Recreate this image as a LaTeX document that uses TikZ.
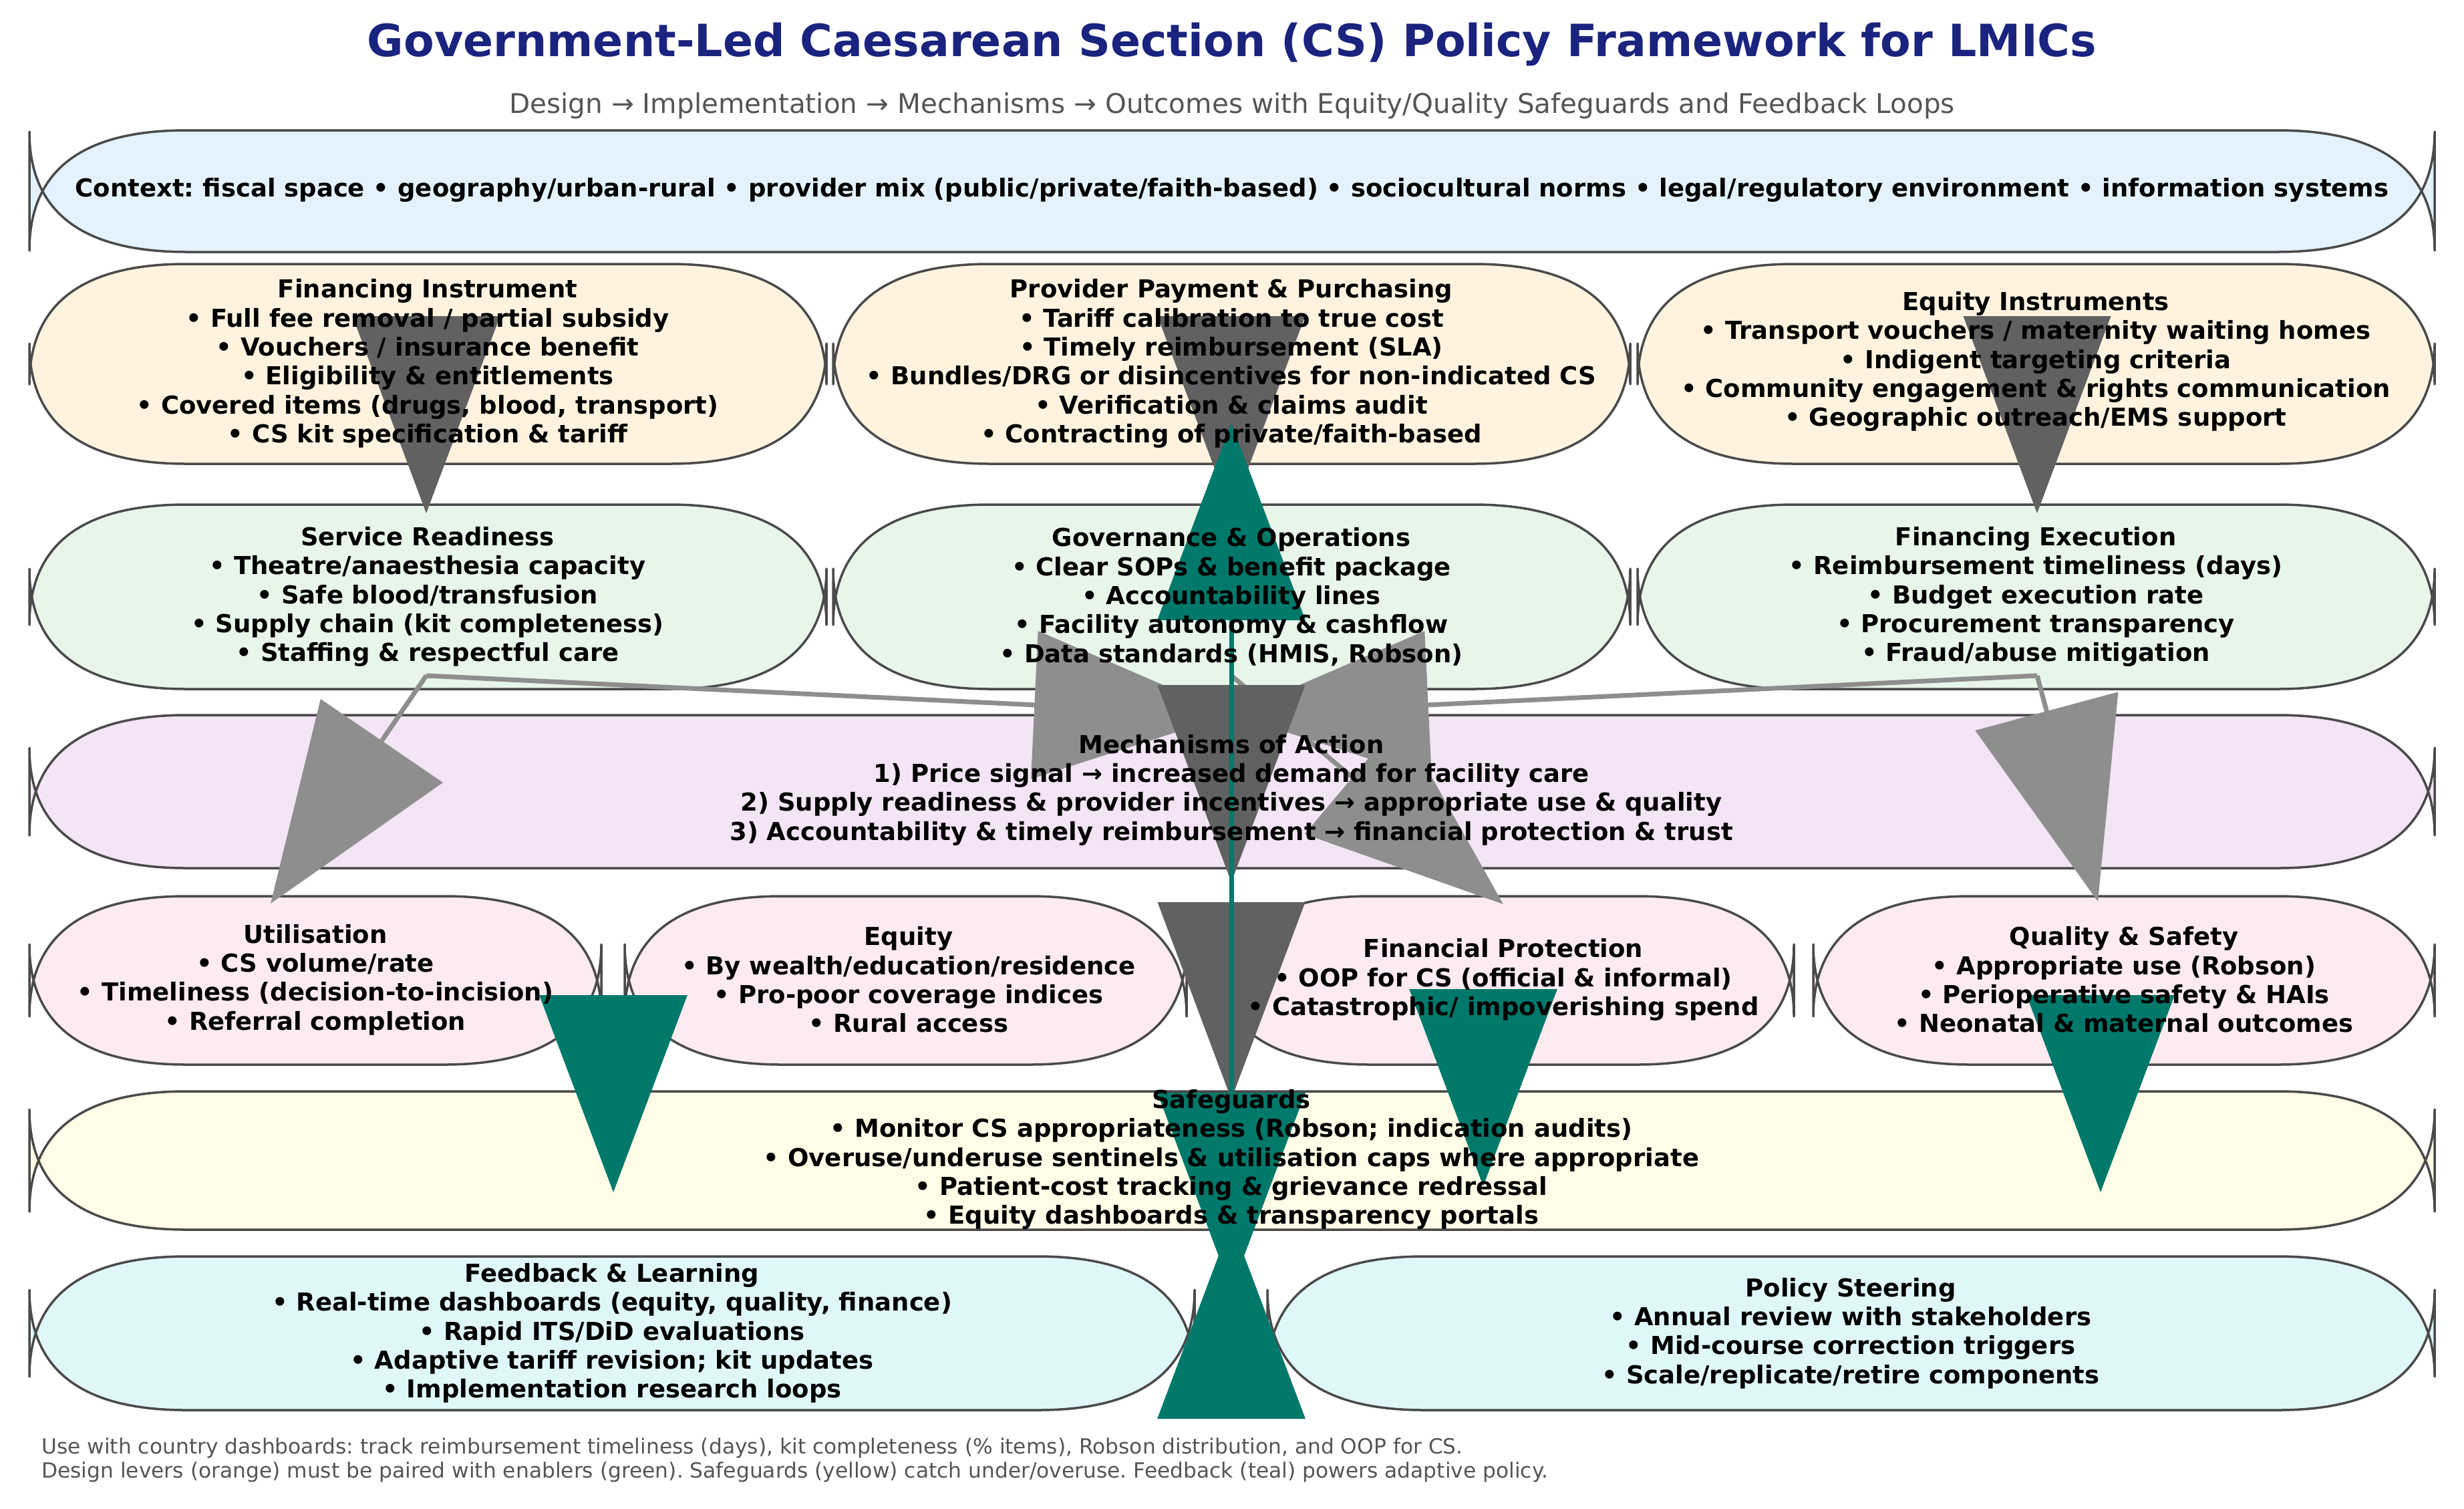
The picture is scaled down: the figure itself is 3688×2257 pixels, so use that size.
\documentclass[tikz,border=0pt]{standalone}
\usepackage{fontspec}
\setmainfont{DejaVu Sans}
\usetikzlibrary{arrows.meta}
\frenchspacing
\definecolor{ttl}{HTML}{1A237E}
\definecolor{subg}{HTML}{555555}
\definecolor{edgeg}{HTML}{4A4A4A}
\definecolor{cctx}{HTML}{E3F2FD}
\definecolor{cdes}{HTML}{FFF3E0}
\definecolor{cimp}{HTML}{E8F5E9}
\definecolor{cmech}{HTML}{F3E5F5}
\definecolor{cout}{HTML}{FDEBEF}
\definecolor{csafe}{HTML}{FFFDE7}
\definecolor{cfb}{HTML}{E0F7FA}
\definecolor{adark}{HTML}{616161}
\definecolor{agray}{HTML}{8E8E8E}
\definecolor{ateal}{HTML}{00796B}
\newcommand\mplbox[5]{%
 \filldraw[boxline, fill=#1] (#2+235,#5) -- (#4-235,#5) .. controls (#4-78.33,#5) and (#4,#5-60) .. (#4,#5-180) -- (#4,#3+180) .. controls (#4,#3+60) and (#4-78.33,#3) .. (#4-235,#3) -- (#2+235,#3) .. controls (#2+78.33,#3) and (#2,#3+60) .. (#2,#3+180) -- (#2,#5-180) .. controls (#2,#5-60) and (#2+78.33,#5) .. (#2+235,#5) -- cycle;}
\tikzset{
 boxline/.style={draw=edgeg, line width=3.5pt, line join=round},
 txt/.style={font=\bfseries\fontsize{37}{43.3}\selectfont, align=center, inner sep=0pt, text=black},
 darkarr/.style={draw=adark, fill=adark, line width=4pt, -{Triangle[length=295pt,width=220pt]}},
 grayarr/.style={draw=agray, fill=agray, line width=7pt, -{Triangle[length=295pt,width=220pt]}},
 tealarr/.style={draw=ateal, fill=ateal, line width=7pt, -{Triangle[length=295pt,width=220pt]}}
}
\begin{document}
\begin{tikzpicture}[x=1pt,y=-1pt]
\useasboundingbox (0,0) rectangle (3688,2257);
\fill[white] (0,0) rectangle (3688,2257);
% ---------- boxes ----------
\mplbox{cctx}{44}{195}{3644}{377}
\mplbox{cdes}{44}{395}{1237}{694}
\mplbox{cdes}{1247}{395}{2440}{694}
\mplbox{cdes}{2451}{395}{3644}{694}
\mplbox{cimp}{44}{755}{1237}{1031}
\mplbox{cimp}{1247}{755}{2440}{1031}
\mplbox{cimp}{2451}{755}{3644}{1031}
\mplbox{cmech}{44}{1070}{3644}{1299}
\mplbox{cout}{44}{1341}{900}{1593}
\mplbox{cout}{935}{1341}{1776}{1593}
\mplbox{cout}{1816}{1341}{2685}{1593}
\mplbox{cout}{2714}{1341}{3644}{1593}
\mplbox{csafe}{44}{1633}{3644}{1840}
\mplbox{cfb}{44}{1880}{1788}{2110}
\mplbox{cfb}{1897}{1880}{3644}{2110}
% ---------- connector end points ----------
\coordinate (finS) at (638,694);  \coordinate (svcN) at (638,768);
\coordinate (provS) at (1843,694); \coordinate (govN) at (1843,768);
\coordinate (eqiS) at (3049,694);  \coordinate (fexN) at (3049,768);
\coordinate (svcS) at (638,1011);  \coordinate (govS) at (1843,1011); \coordinate (fexS) at (3049,1011);
\coordinate (mechN) at (1843,1069); \coordinate (mechC) at (1843,1320);
\coordinate (utilN) at (405,1352); \coordinate (fpN) at (2250,1353); \coordinate (qsN) at (3140,1349);
\coordinate (mechS) at (1843,1297); \coordinate (safeN) at (1843,1645);
\coordinate (utilS) at (918,1500); \coordinate (safeA) at (918,1784);
\coordinate (fpS) at (2220,1500); \coordinate (safeB) at (2220,1775);
\coordinate (qsS) at (3144,1500); \coordinate (safeC) at (3144,1784);
\coordinate (fbT) at (1843,2118); \coordinate (provM) at (1843,633);
\coordinate (safeS) at (1843,1828); \coordinate (safeM) at (1843,1640); \coordinate (fbN) at (1843,1930);
% ---------- connectors ----------
\draw[darkarr] (finS) -- (svcN);
\draw[darkarr] (provS) -- (govN);
\draw[darkarr] (eqiS) -- (fexN);
\draw[grayarr] (svcS) -- (utilN);
\draw[grayarr] (svcS) -- (mechN);
\draw[grayarr] (fexS) -- (mechN);
\draw[grayarr] (fexS) -- (qsN);
\draw[grayarr] (govS) -- (fpN);
\draw[darkarr] (govS) -- (mechC);
\draw[darkarr] (mechS) -- (safeN);
\draw[tealarr] (utilS) -- (safeA);
\draw[tealarr] (fpS) -- (safeB);
\draw[tealarr] (qsS) -- (safeC);
\draw[tealarr] (safeM) -- (fbN);
\draw[tealarr] (fbT) -- (safeS);
\draw[tealarr] (fbT) -- (provM);
% ---------- texts ----------
\node[font=\bfseries\fontsize{66.5}{80}\selectfont, text=ttl, inner sep=0pt] (title) at (1844,66) {Government-Led Caesarean Section (CS) Policy Framework for LMICs};
\node[font=\fontsize{40.5}{48}\selectfont, text=subg, inner sep=0pt] (subtitle) at (1844,158) {Design → Implementation → Mechanisms → Outcomes with Equity/Quality Safeguards and Feedback Loops};
\node[txt] (ctx) at (1844,284) {Context: fiscal space • geography/urban-rural • provider mix (public/private/faith-based) • sociocultural norms • legal/regulatory environment • information systems};
\node[txt] (fin) at (640,544) {Financing Instrument\\• Full fee removal / partial subsidy\\• Vouchers / insurance benefit\\• Eligibility \& entitlements\\• Covered items (drugs, blood, transport)\\• CS kit specification \& tariff};
\node[txt] (prov) at (1843,544) {Provider Payment \& Purchasing\\• Tariff calibration to true cost\\• Timely reimbursement (SLA)\\• Bundles/DRG or disincentives for non-indicated CS\\• Verification \& claims audit\\• Contracting of private/faith-based};
\node[txt] (eqi) at (3047,541) {Equity Instruments\\• Transport vouchers / maternity waiting homes\\• Indigent targeting criteria\\• Community engagement \& rights communication\\• Geographic outreach/EMS support};
\node[txt] (svc) at (640,893) {Service Readiness\\• Theatre/anaesthesia capacity\\• Safe blood/transfusion\\• Supply chain (kit completeness)\\• Staffing \& respectful care};
\node[txt] (gov) at (1843,893) {Governance \& Operations\\• Clear SOPs \& benefit package\\• Accountability lines\\• Facility autonomy \& cashflow\\• Data standards (HMIS, Robson)};
\node[txt] (fex) at (3047,893) {Financing Execution\\• Reimbursement timeliness (days)\\• Budget execution rate\\• Procurement transparency\\• Fraud/abuse mitigation};
\node[txt] (mech) at (1843,1182) {Mechanisms of Action\\1) Price signal → increased demand for facility care\\2) Supply readiness \& provider incentives → appropriate use \& quality\\3) Accountability \& timely reimbursement → financial protection \& trust};
\node[txt] (util) at (472,1466) {Utilisation\\• CS volume/rate\\• Timeliness (decision-to-incision)\\• Referral completion};
\node[txt] (eqo) at (1360,1466) {Equity\\• By wealth/education/residence\\• Pro-poor coverage indices\\• Rural access};
\node[txt] (fp) at (2250,1466) {Financial Protection\\• OOP for CS (official \& informal)\\• Catastrophic/ impoverishing spend};
\node[txt] (qs) at (3179,1466) {Quality \& Safety\\• Appropriate use (Robson)\\• Perioperative safety \& HAIs\\• Neonatal \& maternal outcomes};
\node[txt] (safe) at (1843,1735) {Safeguards\\• Monitor CS appropriateness (Robson; indication audits)\\• Overuse/underuse sentinels \& utilisation caps where appropriate\\• Patient-cost tracking \& grievance redressal\\• Equity dashboards \& transparency portals};
\node[txt] (fb) at (916,1995) {Feedback \& Learning\\• Real-time dashboards (equity, quality, finance)\\• Rapid ITS/DiD evaluations\\• Adaptive tariff revision; kit updates\\• Implementation research loops};
\node[txt] (ps) at (2770,1995) {Policy Steering\\• Annual review with stakeholders\\• Mid-course correction triggers\\• Scale/replicate/retire components};
\node[font=\fontsize{31.3}{36}\selectfont, text=subg, align=left, inner sep=0pt, anchor=west] (foot) at (62,2185) {Use with country dashboards: track reimbursement timeliness (days), kit completeness (\% items), Robson distribution, and OOP for CS.\\Design levers (orange) must be paired with enablers (green). Safeguards (yellow) catch under/overuse. Feedback (teal) powers adaptive policy.};
\end{tikzpicture}
\end{document}
